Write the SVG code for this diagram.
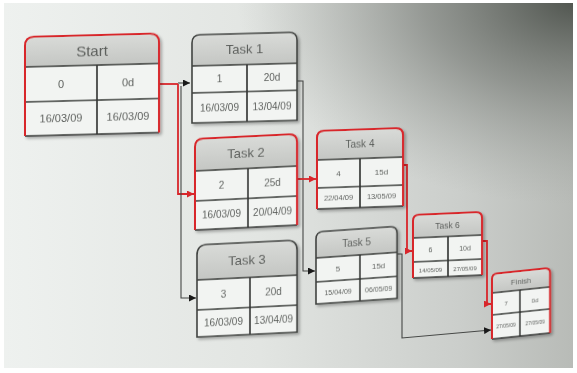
<svg xmlns="http://www.w3.org/2000/svg" width="577" height="373" viewBox="0 0 577 373">
<defs>
<linearGradient id="bg" x1="0" y1="0" x2="1" y2="0">
<stop offset="0" stop-color="#eef1ef"/>
<stop offset="0.45" stop-color="#e2e5e2"/>
<stop offset="0.8" stop-color="#cbcecb"/>
<stop offset="1" stop-color="#b8bbb7"/>
</linearGradient>
<radialGradient id="dark" cx="577" cy="0" r="340" gradientUnits="userSpaceOnUse" gradientTransform="translate(577 0) scale(1 0.6) translate(-577 0)">
<stop offset="0" stop-color="#4f544e" stop-opacity="1"/>
<stop offset="0.45" stop-color="#7c807b" stop-opacity="0.7"/>
<stop offset="1" stop-color="#a0a49f" stop-opacity="0"/>
</radialGradient>
<linearGradient id="hdr" x1="0" y1="0" x2="0" y2="1">
<stop offset="0" stop-color="#d9dbd8"/>
<stop offset="1" stop-color="#c4c6c3"/>
</linearGradient>
<marker id="ak" viewBox="0 0 10 10" refX="10" refY="5" markerWidth="7" markerHeight="7" markerUnits="userSpaceOnUse" orient="auto"><path d="M0,0 L10,5 L0,10 Z" fill="#1a1a1a"/></marker>
<marker id="ar" viewBox="0 0 10 10" refX="10" refY="5" markerWidth="7" markerHeight="7" markerUnits="userSpaceOnUse" orient="auto"><path d="M0,0 L10,5 L0,10 Z" fill="#d8262b"/></marker>
<filter id="sh" x="-10%" y="-10%" width="130%" height="130%"><feGaussianBlur in="SourceAlpha" stdDeviation="1.5"/><feOffset dx="2" dy="2"/><feComponentTransfer><feFuncA type="linear" slope="0.3"/></feComponentTransfer><feMerge><feMergeNode/><feMergeNode in="SourceGraphic"/></feMerge></filter>
</defs>
<style>
.hdr{fill:url(#hdr)}
.body{fill:#f2f4f2}
.ln{stroke:#353735;stroke-width:1.7;fill:none}
.out{stroke:#424442;stroke-width:1.6;fill:none}
.crit{stroke:#d8262b;stroke-width:2;fill:none}
text{font-family:"Liberation Sans",Arial,sans-serif;fill:#5a5d5a;text-anchor:middle}
.c{stroke:#454745;stroke-width:1.1;fill:none}
.r{stroke:#d8262b;stroke-width:1.8;fill:none}
</style>
<rect width="577" height="373" fill="#ffffff"/>
<rect x="4" y="3" width="569" height="365" fill="url(#bg)"/>
<rect x="4" y="3" width="569" height="365" fill="url(#dark)"/>

<g id="connectors">
<path class="r" d="M159,84 H178"/>
<path class="c" d="M178,83 H190" marker-end="url(#ak)"/>
<path class="r" d="M178,84 V194 H194" marker-end="url(#ar)"/>
<path class="c" d="M181,86 V298 H196" marker-end="url(#ak)"/>
<path class="c" d="M297,81 H303 V271 H315" marker-end="url(#ak)"/>
<path class="r" d="M297,179 H316" marker-end="url(#ar)"/>
<path class="r" d="M403,165 H407 V251 H412" marker-end="url(#ar)"/>
<path class="c" d="M397,254 H402 V338 L491,330" marker-end="url(#ak)"/>
<path class="r" d="M482,241 H487 V304 H491" marker-end="url(#ar)"/>
</g>

<g id="start" transform="translate(25,37) skewY(-1.5)" filter="url(#sh)">
<path class="hdr" d="M0,30 V9 Q0,0 9,0 H125 Q134,0 134,9 V30 Z"/>
<rect class="body" x="0" y="30" width="134" height="69"/>
<path class="ln" d="M0,30 H134 M0,65 H134 M72,30 V99 M0,99 H134"/>
<path class="crit" d="M0,99 V9 Q0,0 9,0 H125 Q134,0 134,9 V99"/>
<text x="67" y="21" font-size="15">Start</text>
<text x="36" y="52" font-size="11">0</text>
<text x="103" y="52" font-size="11">0d</text>
<text x="36" y="86" font-size="11">16/03/09</text>
<text x="103" y="86" font-size="11">16/03/09</text>
</g>

<g id="task1" transform="translate(192,35) skewY(-1.5)" filter="url(#sh)">
<path class="hdr" d="M0,31 V8 Q0,0 8,0 H97 Q105,0 105,8 V31 Z"/>
<rect class="body" x="0" y="31" width="105" height="57"/>
<path class="ln" d="M0,31 H105 M0,58 H105 M55,31 V88"/>
<path class="out" d="M0,88 V8 Q0,0 8,0 H97 Q105,0 105,8 V88 Z"/>
<text x="52.5" y="20" font-size="13">Task 1</text>
<text x="27.5" y="48" font-size="10">1</text>
<text x="80" y="48" font-size="10">20d</text>
<text x="27.5" y="77" font-size="10">16/03/09</text>
<text x="80" y="77" font-size="10">13/04/09</text>
</g>

<g id="task2" transform="translate(195,139) skewY(-2.8)" filter="url(#sh)">
<path class="hdr" d="M0,32 V8 Q0,0 8,0 H94 Q102,0 102,8 V32 Z"/>
<rect class="body" x="0" y="32" width="102" height="59"/>
<path class="ln" d="M0,32 H102 M0,62 H102 M53,32 V91 M0,91 H102"/>
<path class="crit" d="M0,91 V8 Q0,0 8,0 H94 Q102,0 102,8 V91"/>
<text x="51" y="21" font-size="13">Task 2</text>
<text x="26.5" y="51" font-size="10">2</text>
<text x="77.5" y="51" font-size="10">25d</text>
<text x="26.5" y="80" font-size="10">16/03/09</text>
<text x="77.5" y="80" font-size="10">20/04/09</text>
</g>

<g id="task3" transform="translate(197,245) skewY(-2.8)" filter="url(#sh)">
<path class="hdr" d="M0,35 V10 Q0,0 10,0 H90 Q100,0 100,10 V35 Z"/>
<rect class="body" x="0" y="35" width="100" height="57"/>
<path class="ln" d="M0,35 H100 M0,65 H100 M53,35 V92"/>
<path class="out" d="M0,92 V10 Q0,0 10,0 H90 Q100,0 100,10 V92 Z"/>
<text x="50" y="22" font-size="13">Task 3</text>
<text x="26.5" y="54" font-size="10">3</text>
<text x="76.5" y="54" font-size="10">20d</text>
<text x="26.5" y="82" font-size="10">16/03/09</text>
<text x="76.5" y="82" font-size="10">13/04/09</text>
</g>

<g id="task4" transform="translate(317,131) skewY(-2)" filter="url(#sh)">
<path class="hdr" d="M0,29 V7 Q0,0 7,0 H79 Q86,0 86,7 V29 Z"/>
<rect class="body" x="0" y="29" width="86" height="49"/>
<path class="ln" d="M0,29 H86 M0,57 H86 M43,29 V78 M0,78 H86"/>
<path class="crit" d="M0,78 V7 Q0,0 7,0 H79 Q86,0 86,7 V78"/>
<text x="43" y="18" font-size="10">Task 4</text>
<text x="21.5" y="46" font-size="8">4</text>
<text x="64.5" y="46" font-size="8">15d</text>
<text x="21.5" y="70" font-size="7.5">22/04/09</text>
<text x="64.5" y="70" font-size="7.5">13/05/09</text>
</g>

<g id="task5" transform="translate(316,232) skewY(-4)" filter="url(#sh)">
<path class="hdr" d="M0,26 V7 Q0,0 7,0 H74 Q81,0 81,7 V26 Z"/>
<rect class="body" x="0" y="26" width="81" height="46"/>
<path class="ln" d="M0,26 H81 M0,50 H81 M44,26 V72"/>
<path class="out" d="M0,72 V7 Q0,0 7,0 H74 Q81,0 81,7 V72 Z"/>
<text x="40.5" y="17" font-size="10">Task 5</text>
<text x="22" y="41" font-size="8">5</text>
<text x="62.5" y="41" font-size="8">15d</text>
<text x="22" y="64" font-size="7">15/04/09</text>
<text x="62.5" y="64" font-size="7">06/05/09</text>
</g>

<g id="task6" transform="translate(413,215) skewY(-2.5)" filter="url(#sh)">
<path class="hdr" d="M0,23 V6 Q0,0 6,0 H63 Q69,0 69,6 V23 Z"/>
<rect class="body" x="0" y="23" width="69" height="40"/>
<path class="ln" d="M0,23 H69 M0,47 H69 M35,23 V63 M0,63 H69"/>
<path class="crit" d="M0,63 V6 Q0,0 6,0 H63 Q69,0 69,6 V63"/>
<text x="34.5" y="15" font-size="8.5">Task 6</text>
<text x="17.5" y="38" font-size="7">6</text>
<text x="52" y="38" font-size="7">10d</text>
<text x="17.5" y="58" font-size="6">14/05/09</text>
<text x="52" y="58" font-size="6">27/05/09</text>
</g>

<g id="finish" transform="translate(492,274) skewY(-6)" filter="url(#sh)">
<path class="hdr" d="M0,19 V5 Q0,0 5,0 H53 Q58,0 58,5 V19 Z"/>
<rect class="body" x="0" y="19" width="58" height="46"/>
<path class="ln" d="M0,19 H58 M0,41 H58 M28,19 V65 M0,65 H58"/>
<path class="crit" d="M0,65 V5 Q0,0 5,0 H53 Q58,0 58,5 V65"/>
<text x="29" y="13" font-size="7.5">Finish</text>
<text x="14" y="33" font-size="6">7</text>
<text x="43" y="33" font-size="6">0d</text>
<text x="14" y="55" font-size="5">27/05/09</text>
<text x="43" y="55" font-size="5">27/05/09</text>
</g>
</svg>
